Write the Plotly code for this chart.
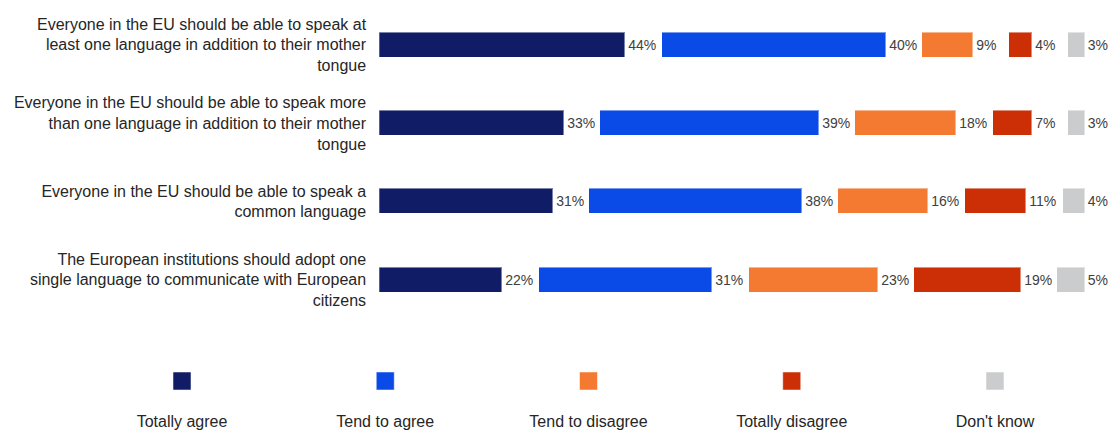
import plotly.graph_objects as go

categories = [
    "Everyone in the EU should be able to speak at<br>least one language in addition to their mother<br>tongue",
    "Everyone in the EU should be able to speak more<br>than one language in addition to their mother<br>tongue",
    "Everyone in the EU should be able to speak a<br>common language",
    "The European institutions should adopt one<br>single language to communicate with European<br>citizens",
]
series_names = ["Totally agree", "Tend to agree", "Tend to disagree", "Totally disagree", "Don't know"]
totally_agree = [44, 33, 31, 22]
tend_to_agree = [40, 39, 38, 31]
tend_to_disagree = [9, 18, 16, 23]
totally_disagree = [4, 7, 11, 19]
dont_know = [3, 3, 4, 5]
series_values = [totally_agree, tend_to_agree, tend_to_disagree, totally_disagree, dont_know]
colors = ["#101d66", "#0a4ae6", "#f47a32", "#cc2e05", "#cbcccd"]

GAP = 6.52  # spacer (in % units) reserved for each value label
FONT = "Arial, Liberation Sans, sans-serif"
LABEL_FONT = dict(family=FONT, size=14, color="#404040")

fig = go.Figure()
n = len(series_names)
for i, (name, vals, col) in enumerate(zip(series_names, series_values, colors)):
    last = i == n - 1
    fig.add_trace(go.Bar(
        y=categories, x=vals, orientation="h", name=name,
        marker=dict(color=col, line=dict(color="rgba(255,255,255,0.45)", width=1)),
        width=0.32, showlegend=False, hoverinfo="skip",
        text=[f"{v}%" for v in vals] if last else None,
        textposition="outside" if last else "none",
        textfont=LABEL_FONT, cliponaxis=False,
    ))
    if not last:
        fig.add_trace(go.Bar(
            y=categories, x=[GAP] * len(vals), orientation="h",
            marker=dict(color="rgba(0,0,0,0)", line=dict(width=0)),
            text=[f"{v}%" for v in vals], textposition="inside", insidetextanchor="start",
            textfont=LABEL_FONT,
            width=0.32, showlegend=False, hoverinfo="skip", cliponaxis=False,
        ))

# custom legend: squares with captions below
lx = list(range(n))
fig.add_trace(go.Scatter(
    x=lx, y=[1] * n, mode="markers", xaxis="x2", yaxis="y2",
    marker=dict(symbol="square", size=18, color=colors,
                line=dict(color="rgba(255,255,255,0.5)", width=1)),
    showlegend=False, hoverinfo="skip",
))
fig.add_trace(go.Scatter(
    x=lx, y=[0] * n, mode="text", xaxis="x2", yaxis="y2",
    text=series_names, textposition="middle center",
    textfont=dict(family=FONT, size=16, color="#262626"),
    showlegend=False, hoverinfo="skip",
))

fig.update_layout(
    width=1116, height=432,
    margin=dict(l=0, r=0, t=0, b=0),
    paper_bgcolor="white", plot_bgcolor="white",
    barmode="stack", bargap=0,
    uniformtext=dict(minsize=14, mode="show"),
    font=dict(family=FONT, size=16, color="#262626"),
    xaxis=dict(domain=[379.3 / 1116, 1], range=[0, 131.55], visible=False, fixedrange=True),
    yaxis=dict(domain=[1 - 319 / 432, 1 - 5.6 / 432], autorange="reversed",
               showgrid=False, zeroline=False, showline=False,
               ticks="outside", ticklen=9, tickcolor="rgba(0,0,0,0)",
               tickfont=dict(family=FONT, size=16, color="#262626")),
    xaxis2=dict(domain=[0, 1], range=[-182 / 203.25, (1116 - 182) / 203.25],
                visible=False, anchor="y2", fixedrange=True),
    yaxis2=dict(domain=[0, 0.2], range=[-0.214, 1.843], visible=False,
                anchor="x2", fixedrange=True),
)

fig.write_html("out.html")
